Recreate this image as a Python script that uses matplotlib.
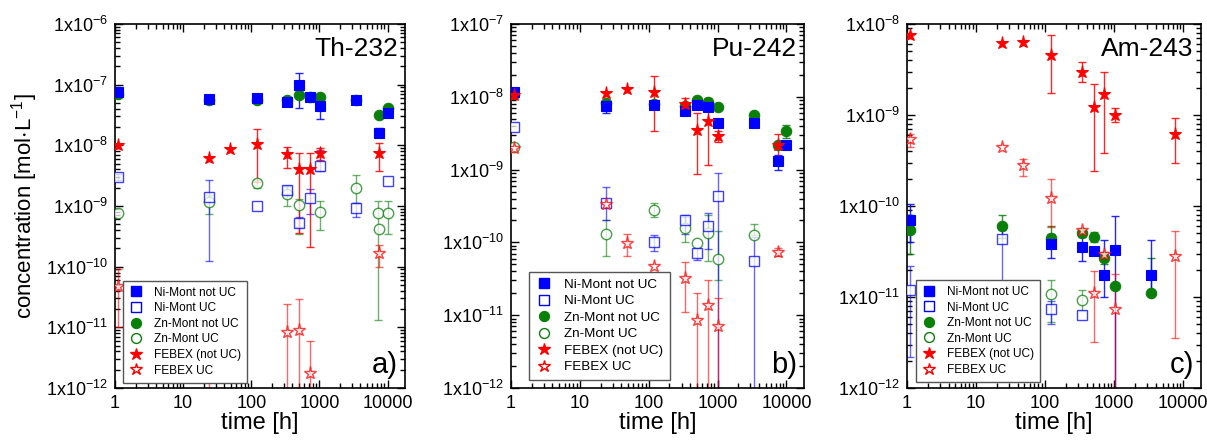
import numpy as np
import matplotlib
matplotlib.use("Agg")
import matplotlib.pyplot as plt
from matplotlib.lines import Line2D
from matplotlib.ticker import LogLocator, FuncFormatter, NullFormatter, FixedLocator

plt.rcParams['font.family'] = ['Liberation Sans', 'DejaVu Sans']
plt.rcParams['mathtext.fontset'] = 'custom'
plt.rcParams['mathtext.rm'] = 'Liberation Sans'
plt.rcParams['mathtext.it'] = 'Liberation Sans:italic'
plt.rcParams['mathtext.default'] = 'regular'

nan = np.nan
BOT = 1e-13  # error bar running off the bottom of the axis

# ---------------- Panel a: Th-232 ----------------
th_ni_t = [1.1, 24, 120, 336, 504, 720, 1008, 3400, 7500, 10000]
th_ni_c = [7.7e-8, 5.7e-8, 6.0e-8, 5.1e-8, 9.8e-8, 6.3e-8, 4.5e-8, 5.6e-8, 1.6e-8, 3.4e-8]
th_ni_lo = [nan, nan, nan, nan, 4.2e-8, nan, 2.7e-8, nan, 1.35e-8, nan]
th_ni_hi = [nan, nan, nan, nan, 1.55e-7, nan, 5.9e-8, nan, 1.9e-8, nan]

th_niuc_t = [1.1, 24, 120, 336, 504, 720, 1008, 3400, 10000]
th_niuc_c = [3.05e-9, 1.43e-9, 1.0e-9, 1.85e-9, 5.3e-10, 1.38e-9, 4.6e-9, 9.1e-10, 2.6e-9]
th_niuc_lo = [2.7e-9, 1.26e-10, nan, 1.6e-9, 4.5e-10, 7.5e-10, 3.8e-9, 6.5e-10, nan]
th_niuc_hi = [3.4e-9, 2.7e-9, nan, 2.1e-9, 6.5e-10, 1.9e-9, 8.5e-9, 1.1e-9, nan]

th_zn_t = [1.1, 24, 120, 336, 504, 720, 1008, 3400, 7500, 10000]
th_zn_c = [7.0e-8, 5.6e-8, 5.6e-8, 5.5e-8, 6.7e-8, 6.2e-8, 6.2e-8, 5.5e-8, 3.2e-8, 4.2e-8]
th_zn_lo = [nan] * 10
th_zn_hi = [nan] * 10

th_znuc_t = [1.1, 24, 120, 336, 504, 1008, 3400, 7200, 7600, 10000]
th_znuc_c = [7.8e-10, 1.15e-9, 2.4e-9, 1.6e-9, 1.02e-9, 8.1e-10, 2.0e-9, 7.8e-10, 4.1e-10, 7.8e-10]
th_znuc_lo = [nan, 7.5e-10, 2.0e-9, 1.0e-9, 3.5e-10, 4.0e-10, 1.1e-9, 1.3e-11, nan, 3.5e-10]
th_znuc_hi = [nan, 1.5e-9, 2.7e-9, 2.1e-9, 1.3e-9, 1.2e-9, 3.2e-9, 1.2e-9, nan, 1.2e-9]

th_fb_t = [1.1, 24, 48, 120, 336, 504, 720, 1008, 7500]
th_fb_c = [1.0e-8, 6.3e-9, 8.7e-9, 1.04e-8, 7.1e-9, 4.1e-9, 4.0e-9, 7.4e-9, 7.4e-9]
th_fb_lo = [nan, nan, nan, 2.5e-9, 4.3e-9, 3.6e-10, 2.1e-10, 5.8e-9, 3.8e-9]
th_fb_hi = [nan, nan, nan, 1.86e-8, 9.5e-9, 7.4e-9, 7.4e-9, 9.0e-9, 1.1e-8]

th_fbuc_t = [1.1, 24, 336, 504, 720, 7500]
th_fbuc_c = [4.8e-11, 2.0e-11, 8.5e-12, 9.1e-12, 1.8e-12, 1.7e-10]
th_fbuc_lo = [1.0e-11, BOT, BOT, BOT, BOT, 1.0e-10]
th_fbuc_hi = [9.0e-11, 4.0e-11, 2.4e-11, 2.9e-11, 6.0e-12, 2.3e-10]

# ---------------- Panel b: Pu-242 ----------------
pu_ni_t = [1.1, 24, 120, 336, 504, 720, 1008, 3400, 7500, 10000]
pu_ni_c = [1.17e-8, 7.5e-9, 7.6e-9, 6.3e-9, 7.6e-9, 7.2e-9, 4.4e-9, 4.4e-9, 1.32e-9, 2.15e-9]
pu_ni_lo = [nan, 6.0e-9, nan, 5.6e-9, nan, nan, nan, nan, 1.0e-9, nan]
pu_ni_hi = [nan, 8.6e-9, nan, 7.0e-9, nan, nan, nan, nan, 1.6e-9, nan]

pu_niuc_t = [1.1, 24, 120, 336, 504, 720, 1008, 3400]
pu_niuc_c = [3.8e-9, 3.5e-10, 1.0e-10, 2.0e-10, 7.2e-11, 1.7e-10, 4.4e-10, 5.6e-11]
pu_niuc_lo = [nan, 2.0e-10, 7.5e-11, 1.3e-10, 5.8e-11, 8.0e-11, BOT, BOT]
pu_niuc_hi = [nan, 5.7e-10, 1.25e-10, 2.4e-10, 8.5e-11, 2.5e-10, 9.0e-10, 1.2e-10]

pu_zn_t = [1.1, 24, 120, 336, 504, 720, 1008, 3400, 7500, 10000]
pu_zn_c = [1.1e-8, 8.2e-9, 7.9e-9, 7.5e-9, 8.9e-9, 8.4e-9, 7.3e-9, 5.6e-9, 2.2e-9, 3.4e-9]
pu_zn_lo = [nan, nan, nan, nan, nan, nan, nan, nan, nan, 2.7e-9]
pu_zn_hi = [nan, nan, nan, nan, nan, nan, nan, nan, nan, 4.1e-9]

pu_znuc_t = [1.1, 24, 120, 336, 504, 720, 1008, 3400]
pu_znuc_c = [2.07e-9, 1.3e-10, 2.8e-10, 1.6e-10, 9.8e-11, 1.33e-10, 6.0e-11, 1.26e-10]
pu_znuc_lo = [nan, 6.5e-11, 2.2e-10, 1.0e-10, nan, 5.5e-11, 3.0e-11, nan]
pu_znuc_hi = [nan, 2.0e-10, 3.5e-10, 2.2e-10, nan, 2.4e-10, 1.45e-10, 1.8e-10]

pu_fb_t = [1.1, 24, 48, 120, 336, 504, 720, 1008, 7500]
pu_fb_c = [1.06e-8, 1.12e-8, 1.29e-8, 1.15e-8, 7.9e-9, 3.5e-9, 4.6e-9, 2.9e-9, 2.2e-9]
pu_fb_lo = [nan, nan, nan, 3.4e-9, 6.5e-9, 8.8e-10, 1.15e-9, 2.4e-9, 1.5e-9]
pu_fb_hi = [nan, nan, nan, 1.93e-8, 9.6e-9, 6.0e-9, 9.5e-9, 3.4e-9, 3.1e-9]

pu_fbuc_t = [1.1, 24, 48, 120, 336, 504, 720, 1008, 7500]
pu_fbuc_c = [2.0e-9, 3.4e-10, 9.8e-11, 4.8e-11, 3.2e-11, 8.5e-12, 1.4e-11, 7.0e-12, 7.4e-11]
pu_fbuc_lo = [nan, nan, 6.5e-11, nan, 1.1e-11, BOT, BOT, BOT, 6.5e-11]
pu_fbuc_hi = [nan, nan, 1.3e-10, nan, 5.3e-11, 2.0e-11, 3.0e-11, 1.7e-11, 8.5e-11]

# ---------------- Panel c: Am-243 ----------------
am_ni_t = [1.1, 120, 336, 504, 720, 1008, 3400]
am_ni_c = [7.0e-11, 3.8e-11, 3.55e-11, 3.2e-11, 1.74e-11, 3.3e-11, 1.74e-11]
am_ni_lo = [4.0e-11, 2.7e-11, 2.5e-11, nan, 1.0e-11, BOT, 1.1e-11]
am_ni_hi = [1.05e-10, 4.9e-11, 4.6e-11, nan, 4.2e-11, 7.8e-11, 4.2e-11]

am_niuc_t = [1.1, 24, 120, 336]
am_niuc_c = [1.2e-11, 4.3e-11, 7.4e-12, 6.3e-12]
am_niuc_lo = [2.2e-12, 1.4e-11, 5.0e-12, nan]
am_niuc_hi = [2.2e-11, 5.4e-11, 9.0e-12, nan]

am_zn_t = [1.1, 24, 120, 336, 504, 720, 1008, 3400]
am_zn_c = [5.5e-11, 6.0e-11, 4.4e-11, 5.1e-11, 4.6e-11, 2.7e-11, 1.33e-11, 1.1e-11]
am_zn_lo = [3.0e-11, 4.5e-11, nan, nan, 4.0e-11, 2.3e-11, nan, nan]
am_zn_hi = [8.0e-11, 7.9e-11, 6.0e-11, nan, 5.2e-11, 3.1e-11, nan, 2.7e-11]

am_znuc_t = [120, 336]
am_znuc_c = [1.07e-11, 9.3e-12]
am_znuc_lo = [5.3e-12, 7.0e-12]
am_znuc_hi = [1.55e-11, 1.2e-11]

am_fb_t = [1.1, 24, 48, 120, 336, 504, 720, 1008, 7500]
am_fb_c = [7.6e-9, 6.2e-9, 6.3e-9, 4.6e-9, 3.0e-9, 1.22e-9, 1.69e-9, 1.0e-9, 6.2e-10]
am_fb_lo = [nan, nan, nan, 1.75e-9, 2.3e-9, 2.4e-10, 3.8e-10, 8.3e-10, 3.0e-10]
am_fb_hi = [nan, nan, nan, 7.5e-9, 3.8e-9, 2.2e-9, 3.0e-9, 1.18e-9, 9.2e-10]

am_fbuc_t = [1.1, 24, 48, 120, 336, 504, 720, 1008, 7500]
am_fbuc_c = [5.4e-10, 4.5e-10, 2.8e-10, 1.22e-10, 5.4e-11, 1.12e-11, 3.0e-11, 7.4e-12, 2.8e-11]
am_fbuc_lo = [4.4e-10, nan, 2.15e-10, 5.9e-11, nan, 3.2e-12, nan, BOT, 3.5e-12]
am_fbuc_hi = [6.2e-10, nan, 3.3e-10, 2.0e-10, nan, 1.94e-11, nan, 1.8e-11, 5.3e-11]

series_labels = ["Ni-Mont not UC", "Ni-Mont UC", "Zn-Mont not UC",
                 "Zn-Mont UC", "FEBEX (not UC)", "FEBEX UC"]
panel_names = ["Th-232", "Pu-242", "Am-243"]
panel_tags = ["a)", "b)", "c)"]
y_exp_ranges = [(-12, -6), (-12, -7), (-12, -8)]
x_range = (1, 1.8e4)
x_ticks = [1, 10, 100, 1000, 10000]

BLUE = "#0000ff"
GREEN = "#0a800a"
RED = "#ff0000"

# style per series (order = legend order)
styles = [
    dict(marker="s", color=BLUE, fill=True, ms=7.0),
    dict(marker="s", color=BLUE, fill=False, ms=7.0),
    dict(marker="o", color=GREEN, fill=True, ms=7.5),
    dict(marker="o", color=GREEN, fill=False, ms=7.5),
    dict(marker="*", color=RED, fill=True, ms=9.5),
    dict(marker="*", color=RED, fill=False, ms=9.5),
]
draw_order = [2, 3, 0, 1, 4, 5]

panels = [
    [(th_ni_t, th_ni_c, th_ni_lo, th_ni_hi), (th_niuc_t, th_niuc_c, th_niuc_lo, th_niuc_hi),
     (th_zn_t, th_zn_c, th_zn_lo, th_zn_hi), (th_znuc_t, th_znuc_c, th_znuc_lo, th_znuc_hi),
     (th_fb_t, th_fb_c, th_fb_lo, th_fb_hi), (th_fbuc_t, th_fbuc_c, th_fbuc_lo, th_fbuc_hi)],
    [(pu_ni_t, pu_ni_c, pu_ni_lo, pu_ni_hi), (pu_niuc_t, pu_niuc_c, pu_niuc_lo, pu_niuc_hi),
     (pu_zn_t, pu_zn_c, pu_zn_lo, pu_zn_hi), (pu_znuc_t, pu_znuc_c, pu_znuc_lo, pu_znuc_hi),
     (pu_fb_t, pu_fb_c, pu_fb_lo, pu_fb_hi), (pu_fbuc_t, pu_fbuc_c, pu_fbuc_lo, pu_fbuc_hi)],
    [(am_ni_t, am_ni_c, am_ni_lo, am_ni_hi), (am_niuc_t, am_niuc_c, am_niuc_lo, am_niuc_hi),
     (am_zn_t, am_zn_c, am_zn_lo, am_zn_hi), (am_znuc_t, am_znuc_c, am_znuc_lo, am_znuc_hi),
     (am_fb_t, am_fb_c, am_fb_lo, am_fb_hi), (am_fbuc_t, am_fbuc_c, am_fbuc_lo, am_fbuc_hi)],
]

W, H = 1207, 443
fig = plt.figure(figsize=(W / 100, H / 100), dpi=100)
axes_px = [(115, 405), (511, 804), (907, 1201)]
top_px, bot_px = 24, 388
legend_fs = [8.6, 9.7, 8.6]
legend_anchor = [(0.027, 0.015), (0.062, 0.022), (0.03, 0.017)]


def yfmt(v, pos):
    e = int(round(np.log10(v)))
    return r"1x10$^{%d}$" % e


for k in range(3):
    x0, x1 = axes_px[k]
    ax = fig.add_axes([x0 / W, (H - bot_px) / H, (x1 - x0) / W, (bot_px - top_px) / H])
    ax.set_xscale("log")
    ax.set_yscale("log")
    for i in draw_order:
        t, c, lo, hi = panels[k][i]
        st = styles[i]
        t = np.array(t, float)
        c = np.array(c, float)
        lo = np.array(lo, float)
        hi = np.array(hi, float)
        has = ~(np.isnan(lo) & np.isnan(hi))
        lo_f = np.where(np.isnan(lo), c, lo)
        hi_f = np.where(np.isnan(hi), c, hi)
        ealpha = 0.85 if st["fill"] else 0.6
        if has.any():
            ax.errorbar(t[has], c[has], yerr=[c[has] - lo_f[has], hi_f[has] - c[has]],
                        fmt="none", ecolor=st["color"], elinewidth=1.0, capsize=3,
                        capthick=1.0, alpha=ealpha, zorder=2)
        if st["fill"]:
            ax.plot(t, c, linestyle="none", marker=st["marker"], ms=st["ms"],
                    mfc=st["color"], mec=st["color"], mew=0.8, zorder=3)
        else:
            ax.plot(t, c, linestyle="none", marker=st["marker"], ms=st["ms"],
                    mfc="white", mec=st["color"], mew=1.0, alpha=0.75, zorder=3)
    e0, e1 = y_exp_ranges[k]
    ax.set_xlim(*x_range)
    ax.set_ylim(10.0 ** e0, 10.0 ** e1)
    ax.set_xticks(x_ticks)
    ax.set_xticklabels([str(v) for v in x_ticks])
    xminor = [m * 10.0 ** d for d in range(0, 5) for m in range(2, 10)
              if m * 10.0 ** d <= x_range[1]]
    ax.xaxis.set_minor_locator(FixedLocator(xminor))
    ax.xaxis.set_minor_formatter(NullFormatter())
    ax.yaxis.set_major_locator(FixedLocator([10.0 ** e for e in range(e0, e1 + 1)]))
    ax.yaxis.set_major_formatter(FuncFormatter(yfmt))
    yminor = [m * 10.0 ** d for d in range(e0, e1) for m in range(2, 10)]
    ax.yaxis.set_minor_locator(FixedLocator(yminor))
    ax.yaxis.set_minor_formatter(NullFormatter())
    ax.tick_params(which="both", direction="in", top=True, right=True, width=1.0)
    ax.tick_params(which="major", length=6, labelsize=13, pad=5)
    ax.tick_params(which="minor", length=3.5)
    for sp in ax.spines.values():
        sp.set_linewidth(1.2)
    ax.set_xlabel("time [h]", fontsize=17, labelpad=0)
    if k == 0:
        ax.set_ylabel(r"concentration [mol$\cdot$L$^{-1}$]", fontsize=16, labelpad=4)
    ax.text(0.975, 0.965, panel_names[k], transform=ax.transAxes, ha="right", va="top",
            fontsize=19)
    ax.text(0.975, 0.025, panel_tags[k], transform=ax.transAxes, ha="right", va="bottom",
            fontsize=21)
    handles = []
    for i in range(6):
        st = styles[i]
        handles.append(Line2D([], [], linestyle="none", marker=st["marker"],
                              ms=st["ms"] * 0.95,
                              mfc=st["color"] if st["fill"] else "white",
                              mec=st["color"], mew=1.0))
    leg = ax.legend(handles, series_labels, loc="lower left",
                    bbox_to_anchor=legend_anchor[k], fontsize=legend_fs[k],
                    frameon=True, fancybox=False, framealpha=1.0, edgecolor="#555555",
                    handlelength=1.2, handletextpad=0.9, labelspacing=0.3,
                    borderpad=0.5, borderaxespad=0.0)
    leg.get_frame().set_linewidth(1.0)
    leg.set_zorder(5)

fig.savefig("out.png", dpi=100)
